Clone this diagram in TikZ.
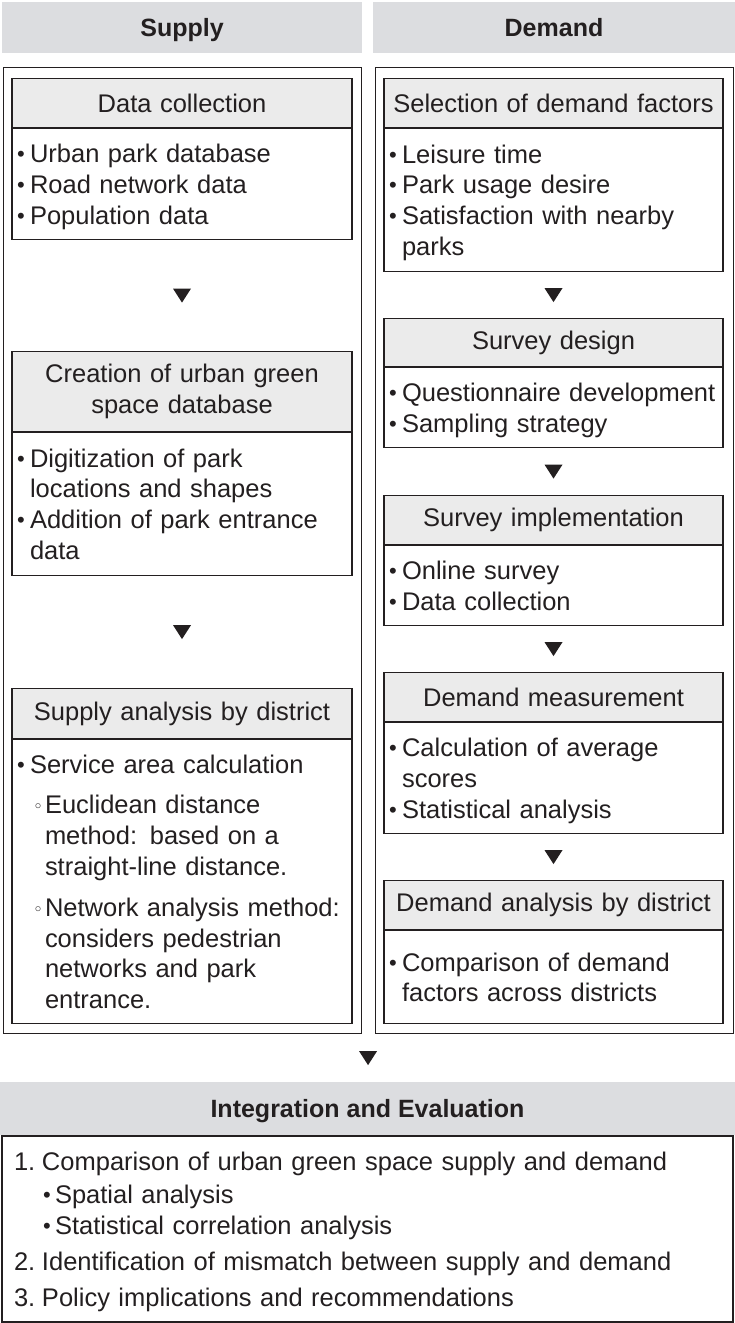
\documentclass[tikz,border=0pt]{standalone}
\usepackage{fontspec}
\setmainfont{Liberation Sans}
\newfontfamily\ugSymFont{DejaVu Sans}
\usetikzlibrary{positioning,calc}
\definecolor{ugInk}{HTML}{231F20}
\definecolor{ugBand}{HTML}{DCDDE0}
\definecolor{ugHead}{HTML}{EBEBEB}
\newcommand{\ugDot}{\raisebox{1pt}{\fontsize{22}{22}\selectfont\textbullet}}
\newcommand{\ugRing}{\raisebox{1pt}{\ugSymFont\fontsize{17}{17}\selectfont ◦}}
\newcommand{\ugBullet}[1]{\leftskip=13pt\noindent\hspace*{-13pt}\makebox[13pt][l]{\ugDot}#1\par}
\newcommand{\ugSub}[1]{\vspace{10pt}\leftskip=28pt\noindent\hspace*{-12pt}\makebox[12pt][l]{\ugRing}#1\par}
\newcommand{\ugNum}[2]{\leftskip=28pt\noindent\hspace*{-28pt}\makebox[28pt][l]{#1}#2\par}
\newcommand{\ugInner}[1]{\leftskip=41pt\noindent\hspace*{-12pt}\makebox[12pt][l]{\ugDot}#1\par}
\newcommand{\ugEnd}{\vspace{-\prevdepth}}
\newcommand{\ugDown}[2]{\fill[ugInk] ($(#1)!.5!(#2)$) +(-9,-7) -- +(9,-7) -- +(0,7) -- cycle;}

\begin{document}
\begin{tikzpicture}[x=1pt,y=-1pt,
  every node/.style={font=\fontsize{25.5}{30.8}\selectfont, text=ugInk},
  band/.style={fill=ugBand, inner sep=0pt, minimum height=51pt, anchor=north, text height=18pt, text depth=0pt, font=\fontsize{25}{29}\selectfont\bfseries},
  frame/.style={draw=ugInk, line width=1.2pt, inner sep=0pt, anchor=north west},
  stephead/.style={draw=ugInk, line width=1.1pt, fill=ugHead, inner xsep=5pt, inner ysep=0pt, align=center, anchor=north, minimum height=#1},
  stepbody/.style={draw=ugInk, line width=1.1pt, inner xsep=5pt, inner ysep=0pt, align=left, minimum height=#1},
  supcol/.style={text width=330pt},
  demcol/.style={text width=329pt}]
\useasboundingbox (0,0) rectangle (735,1323);

% column headings
\node[band, minimum width=360pt] (supBand) at (182,2) {Supply};
\node[band, minimum width=362pt] (demBand) at (554,2) {Demand};
\node[frame, minimum width=358pt, minimum height=966pt] (supFrame) at (3,67) {};
\node[frame, minimum width=358pt, minimum height=966pt] (demFrame) at (375,67) {};

% supply side
\node[stephead=49pt, supcol] (collectHead) at (182,78) {Data collection};
\node[stepbody=111pt, supcol, below=0pt of collectHead] (collectBody) {\ugBullet{Urban park database}\ugBullet{Road network data}\ugBullet{Population data}\ugEnd};
\node[stephead=80pt, supcol] (creationHead) at (182,351) {Creation of urban green\\space database};
\node[stepbody=143pt, supcol, below=0pt of creationHead] (creationBody) {\ugBullet{Digitization of park\break locations and shapes}\ugBullet{Addition of park entrance\break data}\ugEnd};
\node[stephead=50pt, supcol] (supplyHead) at (182,688) {Supply analysis by district};
\node[stepbody=284pt, supcol, below=0pt of supplyHead] (supplyBody) {\ugBullet{Service area calculation}\ugSub{Euclidean distance\break method: based on a\break straight-line distance.}\ugSub{Network analysis method:\break considers pedestrian\break networks and park\break entrance.}\ugEnd};

% demand side
\node[stephead=49pt, demcol] (factorHead) at (553.5,78) {Selection of demand factors};
\node[stepbody=143pt, demcol, below=0pt of factorHead] (factorBody) {\ugBullet{Leisure time}\ugBullet{Park usage desire}\ugBullet{Satisfaction with nearby\break parks}\ugEnd};
\node[stephead=48pt, demcol] (designHead) at (553.5,318) {Survey design};
\node[stepbody=80pt, demcol, below=0pt of designHead] (designBody) {\ugBullet{Questionnaire development}\ugBullet{Sampling strategy}\ugEnd};
\node[stephead=49pt, demcol] (surveyHead) at (553.5,495) {Survey implementation};
\node[stepbody=80pt, demcol, below=0pt of surveyHead] (surveyBody) {\ugBullet{Online survey}\ugBullet{Data collection}\ugEnd};
\node[stephead=49pt, demcol] (measureHead) at (553.5,672) {Demand measurement};
\node[stepbody=111pt, demcol, below=0pt of measureHead] (measureBody) {\ugBullet{Calculation of average\break scores}\ugBullet{Statistical analysis}\ugEnd};
\node[stephead=49pt, demcol] (demandHead) at (553.5,880) {Demand analysis by district};
\node[stepbody=93pt, demcol, below=0pt of demandHead] (demandBody) {\ugBullet{Comparison of demand\break factors across districts}\ugEnd};

% integration
\node[band, minimum width=735pt, minimum height=53pt] (intHead) at (367.5,1082) {Integration and Evaluation};
\node[stepbody=186pt, text width=707pt, inner xsep=12pt, below=0pt of intHead] (intBody) {\ugNum{1.}{Comparison of urban green space supply and demand}\vspace{3pt}\ugInner{Spatial analysis}\ugInner{Statistical correlation analysis}\vspace{5pt}\ugNum{2.}{Identification of mismatch between supply and demand}\vspace{5pt}\ugNum{3.}{Policy implications and recommendations}\ugEnd};

% flow marks
\ugDown{collectBody.south}{creationHead.north}
\ugDown{creationBody.south}{supplyHead.north}
\ugDown{factorBody.south}{designHead.north}
\ugDown{designBody.south}{surveyHead.north}
\ugDown{surveyBody.south}{measureHead.north}
\ugDown{measureBody.south}{demandHead.north}
\coordinate (gap) at ($(supFrame.south east)!.5!(demFrame.south west)$);
\ugDown{gap}{intHead.north}
\end{tikzpicture}
\end{document}
